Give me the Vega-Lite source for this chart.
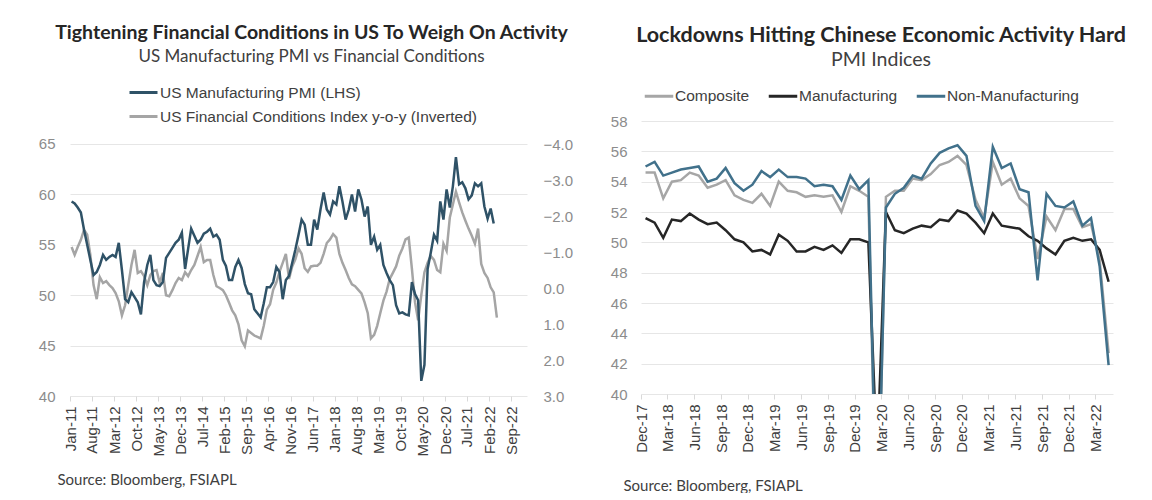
{
  "$schema": "https://vega.github.io/schema/vega-lite/v6.json",
  "background": "white",
  "padding": {"left": 38, "top": 22, "right": 0, "bottom": 0},
  "spacing": 37,
  "align": "none",
  "resolve": {"scale": {"color": "independent"}, "legend": {"color": "independent"}},
  "config": {
    "view": {"stroke": null},
    "title": {"font": "Lato", "fontWeight": "bold", "color": "#262626", "subtitleFont": "Lato", "subtitleColor": "#404040", "anchor": "middle"},
    "axis": {"labelFont": "Liberation Sans", "titleFont": "Lato"}
  },
  "datasets": {
    "us": [
      {"d":"2011-01","p":59.3,"f":-1.14},{"d":"2011-02","p":59.1,"f":-0.92},{"d":"2011-03","p":58.7,"f":-1.14},{"d":"2011-04","p":58.2,"f":-1.34},{"d":"2011-05","p":56.5,"f":-1.62},{"d":"2011-06","p":55.0,"f":-1.48},{"d":"2011-07","p":53.5,"f":-0.92},{"d":"2011-08","p":52.0,"f":-0.08},{"d":"2011-09","p":52.3,"f":0.31},{"d":"2011-10","p":53.0,"f":-0.30},{"d":"2011-11","p":54.0,"f":-0.14},{"d":"2011-12","p":53.5,"f":-0.19},
      {"d":"2012-01","p":53.8,"f":-0.08},{"d":"2012-02","p":54.0,"f":0.00},{"d":"2012-03","p":53.8,"f":0.14},{"d":"2012-04","p":55.2,"f":0.37},{"d":"2012-05","p":52.5,"f":0.76},{"d":"2012-06","p":49.6,"f":0.48},{"d":"2012-07","p":49.3,"f":-0.08},{"d":"2012-08","p":50.3,"f":-0.64},{"d":"2012-09","p":49.8,"f":-1.06},{"d":"2012-10","p":49.3,"f":-0.42},{"d":"2012-11","p":48.1,"f":-0.47},{"d":"2012-12","p":51.3,"f":-0.33},
      {"d":"2013-01","p":53.0,"f":-0.08},{"d":"2013-02","p":54.0,"f":-0.36},{"d":"2013-03","p":51.5,"f":-0.47},{"d":"2013-04","p":51.0,"f":-0.50},{"d":"2013-05","p":50.9,"f":-0.14},{"d":"2013-06","p":51.3,"f":-0.42},{"d":"2013-07","p":53.7,"f":0.20},{"d":"2013-08","p":54.2,"f":0.23},{"d":"2013-09","p":54.7,"f":0.06},{"d":"2013-10","p":55.2,"f":-0.14},{"d":"2013-11","p":55.5,"f":-0.28},{"d":"2013-12","p":56.2,"f":-0.22},
      {"d":"2014-01","p":52.6,"f":-0.44},{"d":"2014-02","p":54.6,"f":-0.33},{"d":"2014-03","p":56.6,"f":-0.50},{"d":"2014-04","p":55.9,"f":-0.64},{"d":"2014-05","p":55.2,"f":-0.89},{"d":"2014-06","p":55.5,"f":-1.14},{"d":"2014-07","p":56.1,"f":-0.72},{"d":"2014-08","p":56.3,"f":-0.78},{"d":"2014-09","p":56.6,"f":-0.78},{"d":"2014-10","p":55.8,"f":-0.36},{"d":"2014-11","p":56.0,"f":-0.05},{"d":"2014-12","p":55.5,"f":0.00},
      {"d":"2015-01","p":53.5,"f":0.06},{"d":"2015-02","p":52.9,"f":0.20},{"d":"2015-03","p":51.5,"f":0.40},{"d":"2015-04","p":51.5,"f":0.62},{"d":"2015-05","p":52.8,"f":0.76},{"d":"2015-06","p":53.5,"f":1.01},{"d":"2015-07","p":52.7,"f":1.45},{"d":"2015-08","p":51.1,"f":1.62},{"d":"2015-09","p":50.2,"f":1.18},{"d":"2015-10","p":50.1,"f":1.25},{"d":"2015-11","p":48.6,"f":1.32},{"d":"2015-12","p":48.2,"f":1.36},
      {"d":"2016-01","p":47.8,"f":1.40},{"d":"2016-02","p":49.2,"f":1.05},{"d":"2016-03","p":50.8,"f":0.60},{"d":"2016-04","p":50.8,"f":0.45},{"d":"2016-05","p":51.3,"f":0.05},{"d":"2016-06","p":52.8,"f":-0.15},{"d":"2016-07","p":52.3,"f":-0.45},{"d":"2016-08","p":49.6,"f":-0.70},{"d":"2016-09","p":51.5,"f":-0.95},{"d":"2016-10","p":51.9,"f":-0.25},{"d":"2016-11","p":53.2,"f":-0.60},{"d":"2016-12","p":54.5,"f":-0.80},
      {"d":"2017-01","p":56.0,"f":-1.10},{"d":"2017-02","p":57.5,"f":-0.95},{"d":"2017-03","p":57.0,"f":-0.55},{"d":"2017-04","p":55.0,"f":-0.45},{"d":"2017-05","p":55.0,"f":-0.60},{"d":"2017-06","p":57.5,"f":-0.62},{"d":"2017-07","p":56.5,"f":-0.62},{"d":"2017-08","p":58.5,"f":-0.70},{"d":"2017-09","p":60.2,"f":-0.95},{"d":"2017-10","p":58.5,"f":-1.25},{"d":"2017-11","p":58.0,"f":-1.35},{"d":"2017-12","p":59.3,"f":-1.50},
      {"d":"2018-01","p":59.0,"f":-1.40},{"d":"2018-02","p":60.8,"f":-0.95},{"d":"2018-03","p":59.3,"f":-0.70},{"d":"2018-04","p":57.5,"f":-0.50},{"d":"2018-05","p":58.5,"f":-0.28},{"d":"2018-06","p":60.0,"f":-0.10},{"d":"2018-07","p":58.3,"f":-0.05},{"d":"2018-08","p":60.5,"f":0.05},{"d":"2018-09","p":59.5,"f":0.15},{"d":"2018-10","p":57.8,"f":0.40},{"d":"2018-11","p":58.8,"f":0.70},{"d":"2018-12","p":55.0,"f":1.40},
      {"d":"2019-01","p":55.8,"f":1.30},{"d":"2019-02","p":54.5,"f":1.05},{"d":"2019-03","p":55.0,"f":0.70},{"d":"2019-04","p":53.0,"f":0.35},{"d":"2019-05","p":52.2,"f":0.10},{"d":"2019-06","p":51.5,"f":-0.25},{"d":"2019-07","p":51.0,"f":-0.42},{"d":"2019-08","p":49.0,"f":-0.60},{"d":"2019-09","p":48.2,"f":-0.90},{"d":"2019-10","p":48.3,"f":-1.10},{"d":"2019-11","p":48.1,"f":-1.35},{"d":"2019-12","p":48.0,"f":-1.40},
      {"d":"2020-01","p":51.3,"f":-0.53},{"d":"2020-02","p":50.1,"f":0.40},{"d":"2020-03","p":49.5,"f":0.90},{"d":"2020-04","p":41.5,"f":0.20},{"d":"2020-05","p":43.1,"f":-0.44},{"d":"2020-06","p":52.6,"f":-0.70},{"d":"2020-07","p":54.2,"f":-0.89},{"d":"2020-08","p":56.0,"f":-0.78},{"d":"2020-09","p":55.4,"f":-0.50},{"d":"2020-10","p":59.3,"f":-0.44},{"d":"2020-11","p":57.5,"f":-1.23},{"d":"2020-12","p":60.5,"f":-1.03},
      {"d":"2021-01","p":58.7,"f":-1.96},{"d":"2021-02","p":60.8,"f":-2.32},{"d":"2021-03","p":63.7,"f":-2.68},{"d":"2021-04","p":61.0,"f":-2.38},{"d":"2021-05","p":61.2,"f":-2.10},{"d":"2021-06","p":60.6,"f":-1.87},{"d":"2021-07","p":59.5,"f":-1.65},{"d":"2021-08","p":59.9,"f":-1.45},{"d":"2021-09","p":61.1,"f":-1.23},{"d":"2021-10","p":60.8,"f":-1.65},{"d":"2021-11","p":61.1,"f":-0.67},{"d":"2021-12","p":58.8,"f":-0.42},
      {"d":"2022-01","p":57.6,"f":-0.28},{"d":"2022-02","p":58.6,"f":-0.02},{"d":"2022-03","p":57.1,"f":0.12},{"d":"2022-04","p":null,"f":0.82}
    ],
    "cn": [
      {"d":"2017-12","Composite":54.6,"Manufacturing":51.6,"Non-Manufacturing":55.0},
      {"d":"2018-01","Composite":54.6,"Manufacturing":51.3,"Non-Manufacturing":55.3},
      {"d":"2018-02","Composite":52.9,"Manufacturing":50.3,"Non-Manufacturing":54.4},
      {"d":"2018-03","Composite":54.0,"Manufacturing":51.5,"Non-Manufacturing":54.6},
      {"d":"2018-04","Composite":54.1,"Manufacturing":51.4,"Non-Manufacturing":54.8},
      {"d":"2018-05","Composite":54.6,"Manufacturing":51.9,"Non-Manufacturing":54.9},
      {"d":"2018-06","Composite":54.4,"Manufacturing":51.5,"Non-Manufacturing":55.0},
      {"d":"2018-07","Composite":53.6,"Manufacturing":51.2,"Non-Manufacturing":54.0},
      {"d":"2018-08","Composite":53.8,"Manufacturing":51.3,"Non-Manufacturing":54.2},
      {"d":"2018-09","Composite":54.1,"Manufacturing":50.8,"Non-Manufacturing":54.9},
      {"d":"2018-10","Composite":53.1,"Manufacturing":50.2,"Non-Manufacturing":53.9},
      {"d":"2018-11","Composite":52.8,"Manufacturing":50.0,"Non-Manufacturing":53.4},
      {"d":"2018-12","Composite":52.6,"Manufacturing":49.4,"Non-Manufacturing":53.8},
      {"d":"2019-01","Composite":53.2,"Manufacturing":49.5,"Non-Manufacturing":54.7},
      {"d":"2019-02","Composite":52.4,"Manufacturing":49.2,"Non-Manufacturing":54.3},
      {"d":"2019-03","Composite":54.0,"Manufacturing":50.5,"Non-Manufacturing":54.8},
      {"d":"2019-04","Composite":53.4,"Manufacturing":50.1,"Non-Manufacturing":54.3},
      {"d":"2019-05","Composite":53.3,"Manufacturing":49.4,"Non-Manufacturing":54.3},
      {"d":"2019-06","Composite":53.0,"Manufacturing":49.4,"Non-Manufacturing":54.2},
      {"d":"2019-07","Composite":53.1,"Manufacturing":49.7,"Non-Manufacturing":53.7},
      {"d":"2019-08","Composite":53.0,"Manufacturing":49.5,"Non-Manufacturing":53.8},
      {"d":"2019-09","Composite":53.1,"Manufacturing":49.8,"Non-Manufacturing":53.7},
      {"d":"2019-10","Composite":52.0,"Manufacturing":49.3,"Non-Manufacturing":52.8},
      {"d":"2019-11","Composite":53.7,"Manufacturing":50.2,"Non-Manufacturing":54.4},
      {"d":"2019-12","Composite":53.4,"Manufacturing":50.2,"Non-Manufacturing":53.5},
      {"d":"2020-01","Composite":53.0,"Manufacturing":50.0,"Non-Manufacturing":54.1},
      {"d":"2020-02","Composite":28.9,"Manufacturing":35.7,"Non-Manufacturing":29.6},
      {"d":"2020-03","Composite":53.0,"Manufacturing":52.0,"Non-Manufacturing":52.3},
      {"d":"2020-04","Composite":53.4,"Manufacturing":50.8,"Non-Manufacturing":53.2},
      {"d":"2020-05","Composite":53.4,"Manufacturing":50.6,"Non-Manufacturing":53.6},
      {"d":"2020-06","Composite":54.2,"Manufacturing":50.9,"Non-Manufacturing":54.4},
      {"d":"2020-07","Composite":54.1,"Manufacturing":51.1,"Non-Manufacturing":54.2},
      {"d":"2020-08","Composite":54.5,"Manufacturing":51.0,"Non-Manufacturing":55.2},
      {"d":"2020-09","Composite":55.1,"Manufacturing":51.5,"Non-Manufacturing":55.9},
      {"d":"2020-10","Composite":55.3,"Manufacturing":51.4,"Non-Manufacturing":56.2},
      {"d":"2020-11","Composite":55.7,"Manufacturing":52.1,"Non-Manufacturing":56.4},
      {"d":"2020-12","Composite":55.1,"Manufacturing":51.9,"Non-Manufacturing":55.7},
      {"d":"2021-01","Composite":52.8,"Manufacturing":51.3,"Non-Manufacturing":52.4},
      {"d":"2021-02","Composite":51.6,"Manufacturing":50.6,"Non-Manufacturing":51.4},
      {"d":"2021-03","Composite":55.3,"Manufacturing":51.9,"Non-Manufacturing":56.3},
      {"d":"2021-04","Composite":53.8,"Manufacturing":51.1,"Non-Manufacturing":54.9},
      {"d":"2021-05","Composite":54.2,"Manufacturing":51.0,"Non-Manufacturing":55.2},
      {"d":"2021-06","Composite":52.9,"Manufacturing":50.9,"Non-Manufacturing":53.5},
      {"d":"2021-07","Composite":52.4,"Manufacturing":50.4,"Non-Manufacturing":53.3},
      {"d":"2021-08","Composite":48.9,"Manufacturing":50.1,"Non-Manufacturing":47.5},
      {"d":"2021-09","Composite":51.7,"Manufacturing":49.6,"Non-Manufacturing":53.2},
      {"d":"2021-10","Composite":50.8,"Manufacturing":49.2,"Non-Manufacturing":52.4},
      {"d":"2021-11","Composite":52.2,"Manufacturing":50.1,"Non-Manufacturing":52.3},
      {"d":"2021-12","Composite":52.2,"Manufacturing":50.3,"Non-Manufacturing":52.7},
      {"d":"2022-01","Composite":51.0,"Manufacturing":50.1,"Non-Manufacturing":51.1},
      {"d":"2022-02","Composite":51.2,"Manufacturing":50.2,"Non-Manufacturing":51.6},
      {"d":"2022-03","Composite":48.8,"Manufacturing":49.5,"Non-Manufacturing":48.4},
      {"d":"2022-04","Composite":42.7,"Manufacturing":47.4,"Non-Manufacturing":41.9}
    ]
  },
  "hconcat": [
    {
      "width": 457,
      "height": 275,
      "title": {"text": "Tightening Financial Conditions in US To Weigh On Activity", "subtitle": "US Manufacturing PMI vs Financial Conditions", "dx": 13, "offset": 11, "fontSize": 19.5, "subtitleFontSize": 17, "subtitlePadding": 6},
      "data": {"name": "us"},
      "encoding": {
        "x": {
          "field": "d", "type": "temporal", "timeUnit": "utcyearmonth", "bandPosition": 0.5,
          "scale": {"type": "utc", "domain": [{"year": 2011, "month": 1, "date": 1, "utc": true}, {"year": 2023, "month": 2, "date": 1, "utc": true}]},
          "axis": {
            "values": [
              {"year":2011,"month":1,"date":1,"utc":true},{"year":2011,"month":8,"date":1,"utc":true},{"year":2012,"month":3,"date":1,"utc":true},{"year":2012,"month":10,"date":1,"utc":true},{"year":2013,"month":5,"date":1,"utc":true},{"year":2013,"month":12,"date":1,"utc":true},{"year":2014,"month":7,"date":1,"utc":true},{"year":2015,"month":2,"date":1,"utc":true},{"year":2015,"month":9,"date":1,"utc":true},{"year":2016,"month":4,"date":1,"utc":true},{"year":2016,"month":11,"date":1,"utc":true},{"year":2017,"month":6,"date":1,"utc":true},{"year":2018,"month":1,"date":1,"utc":true},{"year":2018,"month":8,"date":1,"utc":true},{"year":2019,"month":3,"date":1,"utc":true},{"year":2019,"month":10,"date":1,"utc":true},{"year":2020,"month":5,"date":1,"utc":true},{"year":2020,"month":12,"date":1,"utc":true},{"year":2021,"month":7,"date":1,"utc":true},{"year":2022,"month":2,"date":1,"utc":true},{"year":2022,"month":9,"date":1,"utc":true}
            ],
            "format": "%b-%y", "labelAngle": -90, "labelFontSize": 15, "labelColor": "#404040", "labelOverlap": false,
            "tickSize": 5, "tickColor": "#d9d9d9", "domain": false, "grid": false, "labelPadding": 5,
            "title": "Source: Bloomberg, FSIAPL", "titleFontSize": 15, "titleFontWeight": "normal", "titleColor": "#404040",
            "titleAnchor": "start", "titleAlign": "left", "titleX": -13, "titleY": 83, "titleBaseline": "middle"
          }
        }
      },
      "layer": [
        {
          "mark": {"type": "line", "strokeWidth": 2.5, "clip": true},
          "encoding": {
            "y": {"field": "f", "type": "quantitative",
              "scale": {"domain": [-4.64, 3], "reverse": true, "nice": false, "zero": false},
              "axis": {"orient": "right", "values": [-4, -3, -2, -1, 0, 1, 2, 3], "format": ".1f", "grid": false, "ticks": false, "domain": false, "labelFontSize": 15, "labelColor": "#8c8c8c", "labelPadding": 16, "title": null}},
            "color": {"datum": "US Financial Conditions Index y-o-y (Inverted)",
              "scale": {"domain": ["US Manufacturing PMI (LHS)", "US Financial Conditions Index y-o-y (Inverted)"], "range": ["#2F5267", "#A5A5A5"]},
              "legend": {"orient": "none", "legendX": 58, "legendY": -44, "direction": "vertical", "title": null, "symbolType": "stroke", "symbolSize": 784, "symbolStrokeWidth": 3, "labelFont": "Liberation Sans", "labelFontSize": 15.5, "labelColor": "#404040", "labelLimit": 400, "rowPadding": -9, "labelOffset": 1, "padding": 0}}
          }
        },
        {
          "mark": {"type": "line", "strokeWidth": 2.5, "clip": true},
          "encoding": {
            "y": {"field": "p", "type": "quantitative",
              "scale": {"domain": [40, 67.28], "nice": false, "zero": false},
              "axis": {"orient": "left", "values": [40, 45, 50, 55, 60, 65], "grid": true, "gridColor": "#e6e6e6", "ticks": false, "domain": false, "labelFontSize": 15, "labelColor": "#8c8c8c", "labelPadding": 15, "title": null}},
            "color": {"datum": "US Manufacturing PMI (LHS)",
              "scale": {"domain": ["US Manufacturing PMI (LHS)", "US Financial Conditions Index y-o-y (Inverted)"], "range": ["#2F5267", "#A5A5A5"]},
              "legend": {"orient": "none", "legendX": 58, "legendY": -44, "direction": "vertical", "title": null, "symbolType": "stroke", "symbolSize": 784, "symbolStrokeWidth": 3, "labelFont": "Liberation Sans", "labelFontSize": 15.5, "labelColor": "#404040", "labelLimit": 400, "rowPadding": -9, "labelOffset": 1, "padding": 0}}
          }
        }
      ],
      "resolve": {"scale": {"y": "independent"}}
    },
    {
      "width": 472,
      "height": 273,
      "title": {"text": "Lockdowns Hitting Chinese Economic Activity Hard", "subtitle": "PMI Indices", "dx": 4, "offset": 11, "fontSize": 21.5, "subtitleFontSize": 19.5, "subtitlePadding": 4},
      "data": {"name": "cn"},
      "transform": [{"fold": ["Composite", "Manufacturing", "Non-Manufacturing"], "as": ["series", "value"]}],
      "mark": {"type": "line", "strokeWidth": 2.5, "clip": true},
      "encoding": {
        "x": {
          "field": "d", "type": "temporal", "timeUnit": "utcyearmonth", "bandPosition": 0.5,
          "scale": {"type": "utc", "domain": [{"year": 2017, "month": 12, "date": 1, "utc": true}, {"year": 2022, "month": 5, "date": 1, "utc": true}]},
          "axis": {
            "values": [
              {"year":2017,"month":12,"date":1,"utc":true},{"year":2018,"month":3,"date":1,"utc":true},{"year":2018,"month":6,"date":1,"utc":true},{"year":2018,"month":9,"date":1,"utc":true},{"year":2018,"month":12,"date":1,"utc":true},{"year":2019,"month":3,"date":1,"utc":true},{"year":2019,"month":6,"date":1,"utc":true},{"year":2019,"month":9,"date":1,"utc":true},{"year":2019,"month":12,"date":1,"utc":true},{"year":2020,"month":3,"date":1,"utc":true},{"year":2020,"month":6,"date":1,"utc":true},{"year":2020,"month":9,"date":1,"utc":true},{"year":2020,"month":12,"date":1,"utc":true},{"year":2021,"month":3,"date":1,"utc":true},{"year":2021,"month":6,"date":1,"utc":true},{"year":2021,"month":9,"date":1,"utc":true},{"year":2021,"month":12,"date":1,"utc":true},{"year":2022,"month":3,"date":1,"utc":true}
            ],
            "format": "%b-%y", "labelAngle": -90, "labelFontSize": 15, "labelColor": "#404040", "labelOverlap": false,
            "tickSize": 5, "tickColor": "#d9d9d9", "domain": false, "grid": false, "labelPadding": 5,
            "title": "Source: Bloomberg, FSIAPL", "titleFontSize": 15, "titleFontWeight": "normal", "titleColor": "#404040",
            "titleAnchor": "start", "titleAlign": "left", "titleX": -18, "titleY": 91, "titleBaseline": "middle"
          }
        },
        "y": {"field": "value", "type": "quantitative",
          "scale": {"domain": [40, 58], "nice": false, "zero": false},
          "axis": {"values": [40, 42, 44, 46, 48, 50, 52, 54, 56, 58], "grid": true, "gridColor": "#e6e6e6", "ticks": false, "domain": false, "labelFontSize": 15, "labelColor": "#8c8c8c", "labelPadding": 14, "title": null}},
        "color": {"field": "series", "type": "nominal",
          "scale": {"domain": ["Composite", "Manufacturing", "Non-Manufacturing"], "range": ["#A6A6A6", "#262626", "#41718B"]},
          "legend": {"orient": "none", "legendX": 2, "legendY": -41, "direction": "horizontal", "title": null, "symbolType": "stroke", "symbolSize": 812, "symbolStrokeWidth": 3, "labelFont": "Liberation Sans", "labelFontSize": 15.5, "labelColor": "#404040", "labelLimit": 300, "columnPadding": 12, "labelOffset": 0, "padding": 0}}
      }
    }
  ]
}
